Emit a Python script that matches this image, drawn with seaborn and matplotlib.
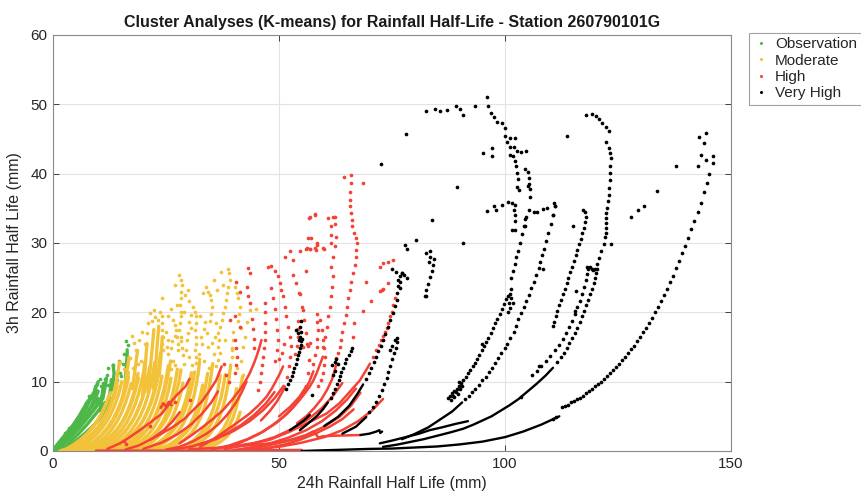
import matplotlib
matplotlib.use("Agg")
import matplotlib.pyplot as plt
from matplotlib.lines import Line2D
import pandas as pd
import seaborn as sns

# ---------------- data ----------------
categories = ["Observation", "Moderate", "High", "Very High"]
colors = ["#4DB848", "#F2C33A", "#F44336", "#000000"]
x_ticks = [0, 50, 100, 150]
y_ticks = [0, 10, 20, 30, 40, 50, 60]

# Observation cluster: dense traces (dots merge into lines) and single dots
obs_traces = [
    [(0,0),(1,0.6),(2,1.3),(3,2.0),(4,2.8),(5,3.5),(6,4.3),(7,5.1),(8,5.9),(9,6.8),(10,7.6)],
    [(0.5,0),(1.5,0.6),(2.5,1.2),(3.5,1.8),(4.5,2.5),(5.5,3.2),(6.5,3.9),(7.5,4.7),(8.5,5.5),(9.5,6.3),(10.5,7.2)],
    [(0.2,0.3),(1,1.0),(2,1.8),(3,2.6),(4,3.4),(5,4.0),(6,4.8),(7,5.8),(7.8,6.8),(8.5,7.8)],
    [(1.5,0),(2.5,0.5),(3.5,1.1),(4.5,1.8),(5.5,2.4),(6.5,3.1),(7.5,3.8),(8.5,4.6),(9.5,5.4),(10.5,6.2),(11.5,7.0)],
    [(2.5,0.2),(4,0.9),(5.5,1.7),(7,2.5),(8.5,3.4),(10,4.4),(11,5.4),(11.8,6.5)],
    [(5.5,4.5),(6,5.3),(6.8,6.2),(7.5,7.0),(8.2,7.6),(9,8.4),(9.5,9.2),(10,10.0)],
    [(8.6,6.5),(9.0,7.5),(9.2,8.5),(9.4,9.3)],
    [(10.4,5.8),(10.6,6.8),(10.8,7.8),(11.0,8.8),(11.1,9.4)],
    [(12.0,5.5),(12.2,6.5),(12.4,7.5),(12.6,8.5),(12.8,9.4),(12.9,10.3)],
    [(16.0,10.0),(16.1,11.0),(16.2,12.0),(16.3,13.0),(16.4,13.8),(16.4,14.6)],
    [(0,0.1),(1.5,0.9),(3,2.0),(4.5,3.0),(6,4.0),(7.2,5.0),(8.2,6.2),(9.2,7.4),(10,8.6)],
    [(1,0.1),(2,0.8),(3,1.4),(4,2.1),(5,2.8),(6,3.5),(7,4.3),(8,5.1),(9,6.0),(10,6.9),(11,7.9)],
    [(3.5,2.8),(4.5,3.8),(5.5,4.8),(6.5,5.6),(7.5,6.3)],
    [(11,7.5),(11.3,8.5),(11.6,9.5),(11.8,10.5)],
    [(13.0,8.8),(13.3,10),(13.5,11.2),(13.3,12.4)],
]
obs_dots = [(13.3,12.4),(12.2,11.9),(16.2,15.8),(16.6,15.3),(11.6,10.4),(9.6,8.8),(14.2,10.2),
            (13.6,9.6),(15.0,10.8),(7.4,6.9),(12.2,9.5),(13.3,9.3),(10.7,9.3),(8.4,2.0),(8.9,1.2),
            (9.2,3.0),(11.0,9.8),(6.3,5.8),(4.8,4.2),(3.5,3.3),(2.6,2.6),(14.8,11.2),(15.5,12.6),
            (9.8,9.6),(10.3,10.4),(8.0,7.9),(12.0,11.0),(14.5,13.0),(15.8,14.0)]

# Moderate cluster
moderate_traces = [
    [(1.5,0),(3,0.3),(4.5,0.9),(6,1.6),(7.5,2.5),(9,3.6),(10.2,4.8),(11.2,6.0),(12,7.2),(12.7,8.4)],
    [(2.5,0),(4,0.3),(5.5,0.8),(7,1.5),(8.5,2.4),(10,3.5),(11.2,4.7),(12.2,6.0),(13,7.3),(13.7,8.7),(14.2,10)],
    [(3.5,0),(5,0.3),(6.5,0.8),(8,1.4),(9.5,2.3),(11,3.4),(12.2,4.6),(13.2,5.9),(14,7.2),(14.7,8.6),(15.2,10)],
    [(4.5,0),(6,0.2),(7.5,0.7),(9,1.3),(10.5,2.2),(12,3.3),(13.2,4.5),(14.2,5.8),(15,7.1),(15.7,8.5),(16.3,10),(16.7,11.3)],
    [(5.5,0),(7,0.2),(8.5,0.6),(10,1.2),(11.5,2.0),(13,3.1),(14.2,4.3),(15.2,5.6),(16,6.9),(16.7,8.3),(17.3,9.7)],
    [(6.5,0),(8,0.2),(9.5,0.6),(11,1.2),(12.5,2.0),(14,3.0),(15.3,4.2),(16.3,5.5),(17.1,6.8),(17.8,8.2),(18.4,9.7),(18.8,11.2)],
    [(7.5,0),(9,0.2),(10.5,0.5),(12,1.1),(13.5,1.9),(15,2.9),(16.3,4.1),(17.3,5.4),(18.2,6.8),(18.9,8.2),(19.5,9.7),(20,11.3),(20.3,12.8)],
    [(8.5,0),(10,0.2),(11.5,0.5),(13,1.0),(14.5,1.8),(16,2.8),(17.3,4.0),(18.4,5.3),(19.3,6.7),(20,8.1),(20.6,9.6),(21.1,11.2)],
    [(9.5,0),(11,0.2),(12.5,0.5),(14,1.0),(15.5,1.7),(17,2.7),(18.3,3.9),(19.4,5.2),(20.3,6.6),(21,8.0),(21.6,9.5),(22.1,11.1),(22.5,12.8)],
    [(10.5,0),(12,0.2),(13.5,0.5),(15,1.0),(16.5,1.7),(18,2.6),(19.3,3.7),(20.4,5.0),(21.3,6.4),(22,7.8),(22.6,9.3),(23.1,10.9),(23.5,12.5),(23.8,14.2)],
    [(11.5,0),(13,0.2),(14.5,0.5),(16,0.9),(17.5,1.6),(19,2.5),(20.3,3.6),(21.4,4.9),(22.3,6.3),(23,7.7),(23.6,9.2),(24.1,10.8)],
    [(12.5,0),(14,0.2),(15.5,0.4),(17,0.9),(18.5,1.5),(20,2.4),(21.3,3.5),(22.4,4.8),(23.3,6.2),(24,7.6),(24.6,9.1),(25.1,10.7),(25.5,12.3)],
    [(13.5,0),(15,0.1),(16.5,0.4),(18,0.8),(19.5,1.4),(21,2.3),(22.3,3.4),(23.4,4.6),(24.3,6.0),(25,7.4),(25.6,8.9),(26.1,10.5)],
    [(14.5,0),(16,0.1),(17.5,0.4),(19,0.8),(20.5,1.4),(22,2.2),(23.3,3.2),(24.4,4.4),(25.3,5.7),(26,7.1),(26.6,8.6),(27.1,10.2),(27.5,11.8)],
    [(16,0),(18,0.2),(20,0.6),(21.5,1.1),(23,1.9),(24.5,2.9),(25.7,4.0),(26.7,5.3),(27.5,6.7),(28.2,8.2),(28.7,9.8)],
    [(17.5,0),(19.5,0.2),(21.5,0.6),(23,1.1),(24.5,1.8),(26,2.8),(27.2,3.9),(28.2,5.2),(29,6.6),(29.7,8.1),(30.2,9.7),(30.6,11.3)],
    [(19,0),(21,0.2),(23,0.6),(24.5,1.1),(26,1.8),(27.5,2.7),(28.7,3.8),(29.7,5.1),(30.5,6.5),(31.2,8.0),(31.7,9.6),(32.1,11.2),(32.4,12.8)],
    [(20.5,0),(22.5,0.2),(24.5,0.5),(26,1.0),(27.5,1.7),(29,2.6),(30.2,3.7),(31.2,5.0),(32,6.4),(32.6,7.9),(33.1,9.5)],
    [(22,0),(24,0.2),(26,0.5),(27.5,1.0),(29,1.6),(30.5,2.5),(31.7,3.6),(32.7,4.9),(33.5,6.3),(34.1,7.8),(34.6,9.4),(35,11),(35.3,12.6)],
    [(24,0),(26,0.2),(28,0.5),(29.5,0.9),(31,1.5),(32.5,2.4),(33.7,3.5),(34.7,4.8),(35.5,6.2),(36.1,7.7),(36.6,9.3),(37,10.9)],
    [(26,0),(28,0.2),(30,0.5),(31.5,0.9),(33,1.5),(34.5,2.3),(35.7,3.4),(36.7,4.7),(37.5,6.1),(38.1,7.6),(38.6,9.2),(39,10.8),(39.3,12.4)],
    [(28,0),(30,0.1),(32,0.4),(33.5,0.8),(35,1.4),(36.5,2.2),(37.7,3.2),(38.7,4.5),(39.5,5.9),(40.1,7.4),(40.6,9.0)],
    [(30,0),(32,0.1),(34,0.4),(35.5,0.8),(37,1.3),(38.5,2.1),(39.7,3.1),(40.7,4.3),(41.4,5.6)],
    [(2,0),(3.5,0.4),(5,1.0),(6.5,1.8),(8,2.8),(9.5,4.0),(10.7,5.3),(11.6,6.6),(12.4,8.0)],
    [(3,0),(4.5,0.3),(6,0.9),(7.5,1.6),(9,2.6),(10.5,3.7),(11.7,5.0),(12.7,6.4),(13.5,7.8),(14.2,9.4)],
    [(5,0),(6.5,0.3),(8,0.8),(9.5,1.5),(11,2.4),(12.5,3.5),(13.7,4.8),(14.7,6.2),(15.5,7.6),(16.2,9.2),(16.7,10.6)],
    [(7,0),(8.5,0.3),(10,0.7),(11.5,1.3),(13,2.2),(14.5,3.3),(15.8,4.6),(16.8,6.0),(17.6,7.4),(18.3,8.9),(18.9,10.5)],
    [(9,0),(10.5,0.3),(12,0.7),(13.5,1.3),(15,2.2),(16.5,3.3),(17.8,4.6),(18.8,6.0),(19.7,7.5),(20.4,9.0),(21,10.6),(21.4,12.2)],
    [(11,0),(12.5,0.3),(14,0.7),(15.5,1.3),(17,2.1),(18.5,3.1),(19.8,4.3),(20.9,5.7),(21.8,7.1),(22.5,8.6),(23.1,10.2),(23.6,11.8)],
    [(13,0),(14.5,0.2),(16,0.6),(17.5,1.1),(19,1.9),(20.5,2.9),(21.8,4.0),(22.9,5.3),(23.8,6.7),(24.5,8.2),(25.1,9.8),(25.6,11.4),(26,13)],
    [(15,0),(17,0.2),(19,0.7),(20.5,1.3),(22,2.1),(23.5,3.1),(24.8,4.3),(25.8,5.6),(26.6,7.0),(27.3,8.5),(27.9,10.1),(28.3,11.7)],
    [(18,0),(20,0.2),(22,0.6),(23.5,1.2),(25,1.9),(26.5,2.9),(27.8,4.0),(28.8,5.3),(29.6,6.7),(30.3,8.2),(30.9,9.8),(31.3,11.4)],
    [(21,0),(23,0.2),(25,0.6),(26.5,1.1),(28,1.8),(29.5,2.7),(30.8,3.8),(31.8,5.1),(32.6,6.5),(33.3,8.0),(33.8,9.6),(34.2,11.2)],
    [(25,0),(27,0.2),(29,0.5),(30.5,1.0),(32,1.6),(33.5,2.5),(34.7,3.6),(35.7,4.9),(36.5,6.3),(37.2,7.8),(37.7,9.4),(38.1,11)],
    [(29,0),(31,0.1),(33,0.4),(34.5,0.8),(36,1.4),(37.5,2.3),(38.7,3.3),(39.7,4.6),(40.4,6.0),(41,7.5),(41.5,9.1),(41.9,10.7)],
    [(19.8,8),(20.1,10),(20.4,12),(20.6,14),(20.8,15.5)],
    [(21,8.5),(21.3,10.5),(21.6,12.5),(21.9,14.5),(22.1,16),(22.3,17.5)],
    [(22.2,9),(22.5,11),(22.8,13),(23.0,15),(23.2,16.5),(23.4,18)],
    [(23.5,11),(23.8,13),(24.0,15),(24.2,16.5)],
    [(15.5,8),(16,10),(16.5,12),(16.8,13.5)],
    [(17.5,9),(18,11),(18.4,13),(18.7,14.5)],
    [(13.5,8.5),(14,10),(14.4,11.5),(14.7,12.8)],
]
moderate_dots = [
    (27.9,25.4),(28.4,24.7),(28.6,24.0),(28.4,23.0),(28.2,22.0),(28.0,21.1),(28.2,20.1),(28.4,19.4),
    (28.0,18.4),(27.9,17.5),(28.2,16.5),(28.4,15.8),(28.6,14.8),(28.8,13.8),
    (33.9,23.7),(34.3,23.0),(34.7,22.5),(35.0,21.8),(35.2,20.8),(35.0,19.8),(34.8,18.8),
    (37.2,25.8),(38.7,26.3),(39.0,25.6),(39.1,24.7),(38.8,23.7),(38.5,22.8),(38.2,21.8),(38.0,20.8),
    (37.7,19.9),(37.3,18.9),(36.9,17.9),(36.5,17.0),(36.7,16.0),(36.5,15.0),(36.9,14.1),(36.5,13.1),(36.1,12.2),
    (31.0,20.8),(31.3,20.1),(31.6,19.4),(31.7,18.4),(31.3,17.5),(31.7,16.5),(31.6,15.5),(31.3,14.6),(31.7,13.6),(31.6,12.7),
    (23.6,20.1),(24.0,19.4),(24.2,18.4),(24.0,17.5),(24.3,16.5),(24.0,15.5),(24.3,14.6),
    (26.6,18.9),(26.9,18.2),(27.3,17.5),(27.5,16.5),(27.7,15.5),(27.6,14.6),
    (40.2,23.7),(40.6,22.8),(41.0,22.0),(41.3,20.8),(41.1,19.8),(40.9,18.8),
    (24.0,22.0),(33.2,22.8),(27.0,24.0),(29.3,22.5),(30.0,21.6),(32.5,19.5),(34.0,17.0),(36.0,18.5),
    (26.0,20.5),(25.0,17.2),(30.5,17.8),(33.0,15.5),(35.5,14.0),(29.5,14.5),(42.5,16.5),(43.5,20.3),
    (44.8,20.5),(38.0,16.0),(39.5,14.5),(41.5,13.0),(42.0,11.0),(39.5,13.5),(39.7,14.8),(39.8,16.0),(39.9,17.2),
    (21.4,19.9),(22.0,18.8),(22.6,19.3),(23.2,18.9),(20.3,15.5),(18.4,14.6),(14.8,12.9),(17.0,13.4),
    (19.4,13.0),(17.6,12.0),(18.9,12.6),(15.8,11.8),(25.5,14.0),(26.5,13.0),(29.0,12.5),(30.0,13.5),
    (33.5,13.0),(34.5,12.0),(35.8,16.5),(37.5,24.0),(29.0,20.0),(25.5,19.5),(20.8,17.0),(19.0,16.0),
    (25.2,15.0),(25.4,16.0),(26.2,14.8),(26.4,15.8),(26.9,16.6),(29.6,16.0),(29.8,17.0),(30.1,18.6),
    (30.6,19.6),(32.4,14.0),(32.8,16.5),(33.4,17.6),(33.6,18.6),(34.2,15.0),(35.2,15.6),(30.8,12.4),
    (27.0,12.4),(26.0,11.8),(32.2,13.2),(22.4,20.4),(21.0,18.4),(19.6,17.2),(18.0,15.6),(17.4,16.6),
    (41.6,17.8),(42.0,15.0),(40.8,12.0),(43.0,18.6),(27.4,21.0),(29.8,23.2),(35.6,24.6),(36.2,23.2),
]

# High cluster
high_traces = [
    [(9.5,0.05),(15,0.05),(20,0.05),(25,0.05),(30,0.05),(35,0.05),(40,0.08),(45,0.1),(50,0.12),(55,0.15)],
    [(30,0.25),(36,0.45),(42,0.75),(48,1.1),(52,1.5),(55,1.9),(57.5,2.8),(58.3,2.3),(58.7,1.9),(59.5,2.1),(62,2.2),(65,2.25),(68,2.3)],
    [(35,0.3),(40,0.7),(44,1.1),(47.9,1.6),(52.4,2.8),(56.8,4.2),(60.5,5.4),(63.4,6.9),(66,8.8),(67.9,10.2),(69.3,11.7),(70.1,12.6)],
    [(12,0.3),(14.8,1.1),(17,2.0),(19.2,3.0),(21.5,4.1),(24.1,5.4),(25.5,6.6),(27,7.8),(28.2,8.6),(29.3,9.3),(30.2,10.4)],
    [(23.8,6.2),(24.4,6.9),(25.0,6.4),(25.6,7.1),(26.2,6.6)],
    [(21.4,1.6),(24,2.5),(26.6,3.5),(29,4.6),(31,5.9),(33,7.2),(34.5,8.6),(36.1,10.2),(37.3,12.2)],
    [(25,0.2),(28,0.6),(31,1.4),(34,2.5),(36.5,3.8),(38.5,5.2),(40.3,6.8),(41.7,8.4),(42.8,10.0)],
    [(28,1.1),(30.5,2.2),(33.2,3.5),(35.5,4.7),(37.6,5.9),(39.5,7.3),(41.3,8.8),(42.5,10.0),(43.5,11.2),(44.3,12.4),(45,13.6),(45.6,14.8),(46.1,16.0)],
    [(32.5,0.6),(35.5,1.7),(38.4,3.0),(41,4.2),(43.5,5.4),(45.5,6.6),(47.2,7.8),(48.4,9.0),(49.4,10.2),(50.2,11.2),(50.9,12.2)],
    [(35,0.2),(39,0.8),(43,1.7),(46.5,2.8),(49.5,4.1),(52,5.5),(54,7.0),(55.5,8.5),(56.7,10.0),(57.6,11.5)],
    [(39.1,0.6),(42.5,1.5),(45.7,2.5),(48.5,3.7),(50.9,4.9),(53,6.2),(54.6,7.4),(55.8,8.4),(56.8,9.3),(57.6,10.2),(58.3,11.2),(59,12.4),(59.7,13.6)],
    [(42,0.3),(47,0.9),(52,1.9),(56,3.0),(59.5,4.3),(62.5,5.8),(65,7.4),(67,9.0)],
    [(47.2,0.4),(51,0.9),(54.6,1.6),(58,2.5),(61.2,3.5),(64,4.6),(66.5,6.0)],
    [(16,0.2),(19,0.8),(22,1.8),(24.5,3.0),(26.5,4.3),(28,5.6)],
    [(54,4.0),(56,5.0),(57.8,6.2),(59.4,7.5),(60.7,8.9),(61.7,10.3),(62.3,11.6),(62.7,12.6)],
    [(46,4.4),(48,5.8),(49.6,7.2),(50.8,8.6),(51.3,9.3)],
    [(50,5.0),(52.5,6.4),(54.5,7.8),(56.0,9.3)],
    [(44,0.2),(50,0.6),(55,1.2),(60,2.0),(64,3.0),(67.5,4.3),(70.5,5.8),(73,7.5)],
    [(38,0.3),(44,1.0),(49,2.0),(53,3.2),(56.5,4.6),(59.5,6.2),(62,8.0),(64,9.8)],
    [(30,0.5),(34,1.3),(38,2.4),(41.5,3.7),(44.5,5.2),(47,6.8),(49,8.5)],
    [(20,0.3),(24,1.2),(27.5,2.4),(30.5,3.8),(33,5.4),(35,7.0),(36.5,8.6)],
    [(26,0.1),(31,0.7),(36,1.7),(40,2.9),(43.5,4.3),(46.5,5.9),(49,7.6),(51,9.4)],
    [(40,0.15),(46,0.6),(51,1.3),(56,2.3),(60,3.5),(63.5,5.0),(66,6.6),(68,8.4)],
]
high_dots = [
    (70.8,13.6),(71.5,14.6),(72.1,15.3),(72.6,16.0),(73.0,16.6),(73.4,17.2),(73.8,17.8),(74.1,18.4),
    (74.5,19.4),(74.9,20.1),(75.3,21.0),(75.7,22.0),
    (62.7,13.4),(63.1,14.1),(63.4,15.0),(63.65,16.0),(64.0,17.2),(64.3,18.4),(64.8,19.6),(65.05,20.8),
    (65.3,22.0),(65.6,23.2),(66.0,24.4),(66.4,25.6),(66.7,26.8),(67.0,28.0),(67.1,29.0),(67.3,30.0),
    (66.97,30.7),(66.5,31.4),(66.2,32.4),(66.1,33.3),(65.9,34.3),(65.8,35.3),(65.7,36.2),(65.8,37.4),
    (65.9,38.6),(65.9,39.8),(64.3,39.5),(68.6,38.6),
    (56.6,33.6),(58.0,34.2),(60.8,33.6),(62.3,33.8),(61.9,33.8),(62.3,32.8),(62.5,30.9),(62.3,29.5),
    (61.9,28.0),(61.6,26.6),(61.9,25.2),(61.8,23.7),(61.6,22.3),(61.2,20.8),(60.9,19.4),(60.5,17.9),
    (60.1,16.5),(59.7,15.0),(61.4,32.4),(61.6,31.2),(61.6,30.0),
    (56.8,33.8),(57.9,34.0),(56.4,30.7),(58.3,30.0),(56.8,29.2),(58.1,29.0),(54.6,22.7),(55.3,20.3),
    (52.4,28.8),(53.0,27.6),(53.1,25.4),(53.7,24.2),(54.4,22.8),(55.0,20.8),(55.5,18.9),(55.9,17.0),
    (56.3,15.1),(56.6,13.1),(56.5,11.2),(56.0,9.3),
    (47.6,26.6),(48.3,26.7),(49.0,25.9),(49.8,25.2),(50.2,24.2),(50.5,23.2),(50.9,22.3),(51.3,20.8),
    (51.6,19.4),(52.0,17.9),(52.4,16.5),(52.7,15.1),(52.5,13.6),(52.2,12.2),(51.8,10.7),
    (46.8,21.3),(46.8,20.0),(46.8,18.4),(46.8,17.2),(46.8,16.0),(46.6,14.8),(46.5,13.6),(46.3,12.4),
    (46.1,11.2),(45.8,10.0),(45.4,8.8),
    (43.1,26.4),(43.5,25.6),(42.8,23.7),(43.1,22.3),(43.5,21.3),(40.4,24.4),(41.3,23.0),
    (56.1,29.3),(57.9,29.3),(58.3,29.7),(59.7,29.3),(51.3,28.0),(54.7,28.8),(55.9,29.1),(56.9,29.2),
    (57.0,30.7),(59.96,29.2),(56.05,26.0),
    (59.0,18.9),(59.4,17.4),(59.7,16.0),(60.0,14.8),(60.1,13.6),(60.0,12.4),(59.7,11.2),(59.2,10.2),(58.6,9.3),
    (69.3,24.4),(68.6,20.2),(70.4,21.7),(66.5,18.5),(66.4,16.5),(72.3,26.6),(73.0,27.1),(74.1,27.3),
    (75.2,27.6),(72.3,23.1),(73.0,23.3),(74.1,24.2),(72.7,23.2),
    (40.2,19.4),(39.1,18.9),(41.3,17.9),(40.3,16.0),(40.5,14.8),(40.6,13.6),(40.4,12.4),(40.2,11.2),
    (55.3,15.0),(56.1,15.4),(56.8,15.6),(21.4,3.6),(26.9,7.1),(30.2,7.4),(15.8,1.4),(16.2,1.0),
    (48.3,23.5),(48.6,22.0),(49.0,20.5),(49.3,19.0),(49.5,17.5),(49.7,16.0),(49.5,14.5),(49.2,13.0),
    (44.0,19.0),(44.3,17.6),(44.4,16.2),(44.5,14.8),(37.8,12.6),(38.3,11.0),(38.9,9.9),
    (57.6,12.6),(58.0,13.8),(58.3,15.0),(58.5,16.2),(58.6,17.4),(58.5,18.6),(58.3,19.8),
    (53.6,14.0),(53.9,15.2),(54.1,16.4),(54.2,17.6),(54.1,18.8),(50.0,13.2),(50.6,14.2),(51.0,15.4),
]

# Very High cluster
veryhigh_traces = [
    [(55,0),(60,0.1),(65,0.2),(70,0.3),(75,0.35),(80,0.5),(85,0.65),(90,0.95),(95,1.35),(100,2.0),(104,2.8),(108,3.8),(112,5.0)],
    [(68,2.3),(70,2.5),(71.5,2.8),(72.2,3.0),(72.4,2.6),(72.8,2.8)],
    [(72.3,1.1),(75,1.5),(78,2.0),(81,2.5),(83.3,3.0),(86,3.4),(89,3.9),(91.8,4.3)],
    [(73,0.6),(76,0.9),(79,1.3),(82,1.7),(85,2.2),(88,2.7),(90.7,3.2),(93,3.8),(95,4.4),(97,5.0),(99,5.8),
     (101,6.6),(103,7.5),(105,8.6),(107,9.7),(109,10.9),(110.6,12.0)],
    [(77.2,1.7),(80,2.45),(83,3.4),(86,4.7),(88.3,5.7),(90.5,7.0)],
    [(52.4,3.0),(54,3.7),(55.5,4.4),(56.8,5.2)],
    [(54.6,3.0),(56.5,4.0),(58.3,5.0),(59.7,6.0),(60.8,7.0)],
    [(60,3.6),(63,4.9),(65.5,6.5),(67.3,8.2),(68.6,9.6)],
    [(64,2.5),(67,3.5),(69.3,4.9)],
]
veryhigh_dots = [
    (113.3,6.5),(114.0,6.7),(114.6,7.0),(115.3,7.2),(116.0,7.5),(116.6,7.7),(117.3,8.0),(117.9,8.3),
    (118.6,8.6),(119.3,8.9),(119.9,9.3),(120.6,9.6),(121.2,10.0),(121.9,10.4),(122.6,10.8),(123.2,11.3),
    (123.9,11.7),(124.6,12.1),(125.2,12.6),(125.9,13.1),(126.6,13.6),(127.2,14.1),(127.9,14.7),(128.5,15.2),
    (129.2,15.9),(129.9,16.5),(130.5,17.1),(131.2,17.8),(131.9,18.5),(132.5,19.2),(133.2,20.0),(133.9,20.8),
    (134.5,21.6),(135.2,22.5),(135.8,23.4),(136.5,24.4),(137.2,25.3),(137.8,26.4),(138.5,27.4),(139.2,28.5),
    (139.8,29.6),(140.5,30.7),(141.2,32.0),(141.9,33.2),(142.6,34.5),(143.3,35.8),(144.0,37.3),(144.6,38.7),
    (145.1,40.0),(145.9,42.6),(112.6,6.3),(110.5,4.6),(111.2,4.9),
    (142.9,45.3),(144.4,45.8),(144.0,44.4),(143.4,42.7),(144.5,42.0),(145.9,41.6),(142.7,41.1),(137.9,41.1),
    (133.6,37.5),(130.8,35.4),(129.5,34.8),(127.9,33.8),
    (117.9,48.5),(119.3,48.6),(120.1,48.3),(120.8,47.9),(121.5,47.3),(122.3,46.8),(123.0,46.2),(122.4,44.5),
    (122.9,43.7),(123.2,43.0),(123.4,42.2),(123.3,41.1),(123.2,40.1),(123.2,39.1),(123.0,38.0),(122.9,36.9),
    (122.7,36.0),(122.5,35.1),(122.4,34.3),(122.4,33.6),(122.35,32.9),(122.3,32.1),(122.3,31.4),(122.2,30.8),
    (121.8,29.9),(123.4,29.9),(121.2,28.8),(120.7,27.8),(120.3,26.9),
    (111.5,12.8),(112.3,13.5),(113.0,14.2),(113.6,14.9),(114.2,15.6),(114.8,16.3),(115.4,17.0),(116.0,17.8),
    (116.5,18.6),(117.0,19.4),(117.5,20.2),(118.0,21.0),(118.4,21.8),(118.8,22.6),(119.2,23.4),(119.6,24.2),
    (119.9,25.0),(120.1,25.6),(120.3,26.2),(119.9,26.3),(119.4,26.1),
    (106.0,10.9),(107.0,11.6),(108.0,12.3),(109.0,13.0),(110.0,13.7),(111.0,14.5),(112.0,15.3),(112.8,16.1),
    (113.5,17.0),(114.2,17.9),(114.8,18.8),(115.4,19.7),(116.0,20.7),(116.5,21.7),(117.0,22.7),(117.4,23.7),
    (117.8,24.7),(118.1,25.5),(118.4,26.2),(118.9,26.5),(119.2,26.3),(118.2,26.5),
    (110.6,18.0),(110.8,18.6),(111.2,19.4),(111.6,20.2),(112.0,21.0),(112.4,21.8),(112.8,22.6),(113.2,23.4),
    (113.6,24.2),(114.0,25.0),(114.4,25.8),(114.8,26.6),(115.2,27.4),(115.6,28.2),(116.0,29.0),(116.4,29.8),
    (116.8,30.6),(117.1,31.4),(117.4,32.2),(117.7,33.0),(117.9,33.8),(117.6,34.4),(117.3,34.7),
    (87.4,7.6),(87.9,7.9),(88.3,8.3),(88.8,8.6),(89.3,9.0),(89.8,9.4),(90.3,9.8),(90.8,10.2),(91.3,10.7),
    (91.8,11.2),(92.3,11.7),(92.8,12.2),(93.3,12.7),(93.8,13.3),(94.3,13.9),(94.8,14.5),(95.3,15.1),
    (95.8,15.7),(96.3,16.3),(96.8,17.0),(97.3,17.7),(97.8,18.4),(98.3,19.1),(98.8,19.8),(99.3,20.5),
    (99.8,21.2),(100.2,21.9),(100.6,22.4),(101.0,22.6),(101.4,22.1),(101.7,21.4),(100.8,21.3),(101.2,20.6),
    (100.6,20.0),(101.3,23.4),(101.3,24.9),(101.7,25.9),(102.1,27.0),(102.5,28.0),(102.9,28.9),(103.3,30.0),
    (103.8,31.3),(104.1,32.5),(104.4,33.5),(88.5,8.0),(89.2,8.5),(89.6,8.2),(90.1,9.0),(88.0,7.4),(88.8,7.8),
    (90.5,9.3),(89.9,10.0),
    (91.2,7.5),(92.0,7.9),(92.7,8.5),(93.4,9.0),(94.2,9.5),(94.9,10.2),(95.7,10.7),(96.4,11.4),(97.1,12.0),
    (97.8,12.7),(98.5,13.4),(99.2,14.1),(99.9,14.8),(100.5,15.5),(101.2,16.3),(101.9,17.1),(102.4,18.0),
    (102.9,19.0),(103.6,19.9),(104.1,20.8),(104.7,21.7),(105.2,22.5),(105.8,23.5),(106.3,24.4),(106.9,25.4),
    (107.5,26.4),(108.4,26.2),(107.7,27.3),(108.2,28.3),(108.6,29.2),(109.0,30.3),(109.5,31.5),(110.1,32.8),
    (110.6,34.0),(111.1,35.3),(110.8,35.8),
    (104.4,40.7),(105.0,40.2),(105.2,39.4),(105.3,38.5),(105.0,38.2),(105.5,37.8),(105.5,36.7),(105.2,34.8),
    (104.7,33.7),(104.4,32.5),
    (102.0,43.8),(101.8,42.5),(102.3,41.8),(102.4,41.1),(102.7,40.1),(102.8,39.3),(102.6,38.1),(103.0,37.7),
    (102.1,35.5),(102.0,34.8),(102.2,34.0),(102.1,33.1),(101.6,31.9),(102.3,31.9),
    (96.1,51.0),(96.2,49.7),(96.8,48.8),(97.5,48.2),(98.2,47.5),(99.3,47.3),(99.9,46.6),(100.0,45.4),
    (101.0,45.2),(102.1,45.1),(100.5,44.6),(101.0,43.8),(102.7,43.3),(103.5,43.1),(104.6,43.2),(101.0,42.7),
    (82.6,49.0),(84.4,49.3),(85.7,49.1),(87.2,49.2),(89.2,49.8),(90.1,49.3),(90.8,48.5),(93.3,49.7),
    (100.7,35.9),(101.5,35.8),(106.3,34.5),(107.0,34.4),(108.3,34.9),(109.2,35.0),(111.1,35.3),(110.6,34.0),
    (78.0,45.7),(80.2,30.4),(83.8,33.3),(89.4,38.1),(90.7,30.0),(95.1,43.0),(97.1,43.7),(97.1,42.5),
    (96.0,34.6),(97.6,35.3),(98.1,34.8),(99.4,35.5),(113.6,45.4),(115.0,32.5),(107.5,12.3),(103.5,7.8),
    (95.0,15.5),(115.4,20.2),(115.6,23.1),(72.6,41.4),
    (82.5,28.5),(83.5,28.8),(83.3,28.0),(84.3,27.7),(83.2,27.3),(84.1,26.8),(83.9,26.0),(83.3,25.1),
    (83.0,24.1),(82.6,23.2),(82.3,22.4),(82.6,22.3),
    (77.8,29.7),(78.2,29.1),(77.1,25.7),(77.6,25.4),(78.3,24.9),(76.7,24.4),(76.7,23.5),
    (51.5,8.9),(51.9,9.6),(52.4,10.2),(52.8,10.8),(53.1,11.4),(53.4,12.0),(53.7,12.6),(54.0,13.2),
    (54.2,13.8),(54.4,14.3),(54.6,14.8),(54.8,15.3),(54.9,15.8),(54.7,16.5),(54.9,17.2),(54.7,17.9),
    (54.9,18.7),(53.8,17.5),(54.2,17.0),(55.0,16.2),(54.5,16.0),
    (61.4,7.6),(61.9,8.3),(62.4,9.0),(62.8,9.6),(63.2,10.2),(63.5,10.8),(63.8,11.4),(64.1,12.0),(64.5,12.7),
    (64.9,13.3),(65.4,13.9),(65.9,14.4),(66.2,14.8),(62.0,11.0),(62.4,11.5),(61.7,12.4),(62.3,12.9),
    (63.0,12.6),(62.7,13.3),
    (69.3,10.4),(69.9,11.2),(70.4,12.0),(71.0,12.8),(71.5,13.6),(72.0,14.4),(72.5,15.2),(73.0,16.0),
    (73.5,16.9),(74.1,17.9),(74.6,18.9),(75.2,19.9),(75.6,20.9),(76.0,21.8),(76.2,22.8),(76.3,23.8),
    (76.3,24.6),(76.7,25.3),(77.3,25.6),(75.8,25.8),(75.0,26.2),
    (70.0,5.6),(70.8,6.3),(71.5,7.1),(72.2,7.9),(72.8,8.8),(73.3,9.6),(73.8,10.5),(74.2,11.4),(74.6,12.3),
    (75.0,13.2),(75.4,14.1),(75.8,14.9),(76.2,15.7),(75.6,16.0),(76.0,16.3),(75.0,15.2),(74.6,14.5),
    (57.2,8.1),
]

# ---------------- build tables ----------------
def traces_frame(traces):
    rows = []
    for i, tr in enumerate(traces):
        for x, y in tr:
            rows.append({"trace": i, "x": x, "y": y})
    return pd.DataFrame(rows)

def dots_frame(dots):
    return pd.DataFrame(dots, columns=["x", "y"])

groups = [
    (obs_traces, obs_dots),
    (moderate_traces, moderate_dots),
    (high_traces, high_dots),
    (veryhigh_traces, veryhigh_dots),
]
trace_widths = [2.4, 2.4, 1.8, 1.7]

# ---------------- plot ----------------
sns.set_theme(style="white")
plt.rcParams["font.family"] = ["Liberation Sans", "DejaVu Sans"]

fig = plt.figure(figsize=(8.61, 4.97), dpi=100)
ax = fig.add_axes([0.0616, 0.0926, 0.7875, 0.837])

for (trs, dts), col, lw in zip(groups, colors, trace_widths):
    tf = traces_frame(trs)
    df = dots_frame(dts)
    sns.lineplot(data=tf, x="x", y="y", units="trace", estimator=None, sort=False,
                 color=col, lw=lw, ax=ax, legend=False, zorder=3)
    sns.scatterplot(data=df, x="x", y="y", color=col, s=7, linewidth=0, ax=ax,
                    legend=False, zorder=3)

ax.set_xlim(0, 150)
ax.set_ylim(0, 60)
ax.set_xticks(x_ticks)
ax.set_yticks(y_ticks)
ax.grid(True, color="#e3e3e3", lw=0.8, zorder=0)
ax.set_axisbelow(True)
ax.tick_params(direction="in", length=4, width=0.6, colors="#262626", labelsize=11,
               top=True, right=True, bottom=True, left=True, pad=4)
for sp in ax.spines.values():
    sp.set_color("#8a8a8a")
    sp.set_linewidth(0.8)

ax.set_xlabel("24h Rainfall Half Life (mm)", fontsize=11.5, color="#262626", labelpad=4)
ax.set_ylabel("3h Rainfall Half Life (mm)", fontsize=11.5, color="#262626", labelpad=6)
ax.set_title("Cluster Analyses (K-means) for Rainfall Half-Life - Station 260790101G",
             fontsize=11.5, fontweight="bold", color="#1a1a1a", pad=6)

handles = [Line2D([], [], ls="", marker="o", markersize=2.2, markeredgewidth=0,
                  color=c) for c in colors]
leg = ax.legend(handles, categories, loc="upper left", bbox_to_anchor=(1.0265, 1.005),
                frameon=True, fancybox=False, fontsize=11, borderaxespad=0,
                handlelength=1.0, handletextpad=0.4, labelspacing=0.15, borderpad=0.3)
leg.get_frame().set_edgecolor("#8a8a8a")
leg.get_frame().set_linewidth(0.8)

fig.savefig("out.png", dpi=100)
